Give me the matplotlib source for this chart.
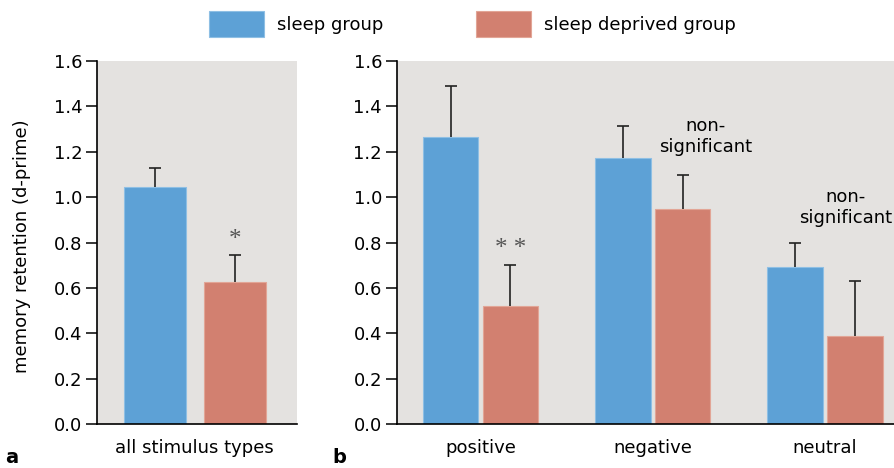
import matplotlib
matplotlib.use("Agg")
import matplotlib.pyplot as plt
import numpy as np

plt.rcParams['font.family'] = ['DejaVu Sans']

# ---------------- data ----------------
series_labels = ["sleep group", "sleep deprived group"]

all_category = ["all stimulus types"]
all_sleep = [1.046]
all_sleep_err = [0.081]
all_deprived = [0.624]
all_deprived_err = [0.121]

categories = ["positive", "negative", "neutral"]
sleep_vals = [1.266, 1.174, 0.692]
sleep_err = [0.225, 0.141, 0.106]
deprived_vals = [0.521, 0.948, 0.389]
deprived_err = [0.180, 0.149, 0.240]

yticks = [0.0, 0.2, 0.4, 0.6, 0.8, 1.0, 1.2, 1.4, 1.6]
ylabel = "memory retention (d-prime)"

# ---------------- style ----------------
BLUE = "#5DA1D6"
RED = "#D28070"
BLUE_EDGE = "#8EBFE4"
RED_EDGE = "#E2A596"
BG = "#E4E2E0"
FS = 13

fig = plt.figure(figsize=(8.95, 4.68), dpi=100)
axL = fig.add_axes([0.1084, 0.0940, 0.2231, 0.7756])
axR = fig.add_axes([0.4432, 0.0940, 0.5568, 0.7756])

def style(ax):
    ax.set_facecolor(BG)
    for s in ["top", "right"]:
        ax.spines[s].set_visible(False)
    ax.spines["left"].set_linewidth(1.2)
    ax.spines["bottom"].set_linewidth(1.2)
    ax.set_ylim(0, 1.6)
    ax.set_yticks(yticks)
    ax.set_yticklabels([f"{t:.1f}" for t in yticks], fontsize=FS)
    ax.tick_params(axis="y", direction="out", length=8, width=1.1, pad=2.5)
    ax.tick_params(axis="x", length=0, pad=11, labelsize=FS)

err_kw = dict(ecolor="#222222", elinewidth=1.2, capsize=4, capthick=1.2)

def hide_lower_caps(container):
    eb = container.errorbar
    if eb is None:
        return
    _, caplines, _ = eb.lines
    if caplines:
        caplines[0].set_visible(False)

# left panel
style(axL)
xl = np.arange(len(all_category))
wl = 0.35
offL = 0.2245
b1 = axL.bar(xl - offL, all_sleep, wl, color=BLUE, edgecolor=BLUE_EDGE, linewidth=0.8,
             yerr=[np.zeros(len(all_sleep)), all_sleep_err], error_kw=err_kw, zorder=2)
b2 = axL.bar(xl + offL, all_deprived, wl, color=RED, edgecolor=RED_EDGE, linewidth=0.8,
             yerr=[np.zeros(len(all_deprived)), all_deprived_err], error_kw=err_kw, zorder=2)
hide_lower_caps(b1)
hide_lower_caps(b2)
axL.set_xlim(-0.552, 0.575)
axL.set_xticks(xl)
axL.set_xticklabels(all_category)
axL.set_ylabel(ylabel, fontsize=FS)
axL.yaxis.set_label_coords(-0.33, 0.49)
axL.text(xl[0] + offL, all_deprived[0] + all_deprived_err[0] + 0.065, "*",
         ha="center", va="center", fontsize=18, color="#555555", family="Liberation Serif")

# right panel
style(axR)
xr = np.arange(len(categories))
wr = 0.322
offR = 0.1735
b3 = axR.bar(xr - offR, sleep_vals, wr, color=BLUE, edgecolor=BLUE_EDGE, linewidth=0.8,
             yerr=[np.zeros(len(sleep_vals)), sleep_err], error_kw=err_kw, zorder=2)
b4 = axR.bar(xr + offR, deprived_vals, wr, color=RED, edgecolor=RED_EDGE, linewidth=0.8,
             yerr=[np.zeros(len(deprived_vals)), deprived_err], error_kw=err_kw, zorder=2)
hide_lower_caps(b3)
hide_lower_caps(b4)
axR.set_xlim(-0.486, 2.406)
axR.set_xticks(xr)
axR.set_xticklabels(categories)
axR.text(xr[0] + offR, deprived_vals[0] + deprived_err[0] + 0.072, "* *",
         ha="center", va="center", fontsize=18, color="#555555", family="Liberation Serif")
axR.text(1.309, 1.267, "non-\nsignificant", ha="center", va="center", fontsize=FS,
         linespacing=1.2)
axR.text(2.117, 0.956, "non-\nsignificant", ha="center", va="center", fontsize=FS,
         linespacing=1.2)

# panel letters
fig.text(5 / 895, 1 - 467 / 468, "a", fontsize=14, fontweight="bold", ha="left", va="bottom")
fig.text(332 / 895, 1 - 467 / 468, "b", fontsize=14, fontweight="bold", ha="left", va="bottom")

# legend
fig.legend([b1, b2], series_labels, loc="upper center", bbox_to_anchor=(0.528, 1.0),
           ncol=2, frameon=False, fontsize=FS, handlelength=3.05, handleheight=1.85,
           handletextpad=0.72, columnspacing=5.1, borderaxespad=0.2)

fig.savefig("out.png", dpi=100)
